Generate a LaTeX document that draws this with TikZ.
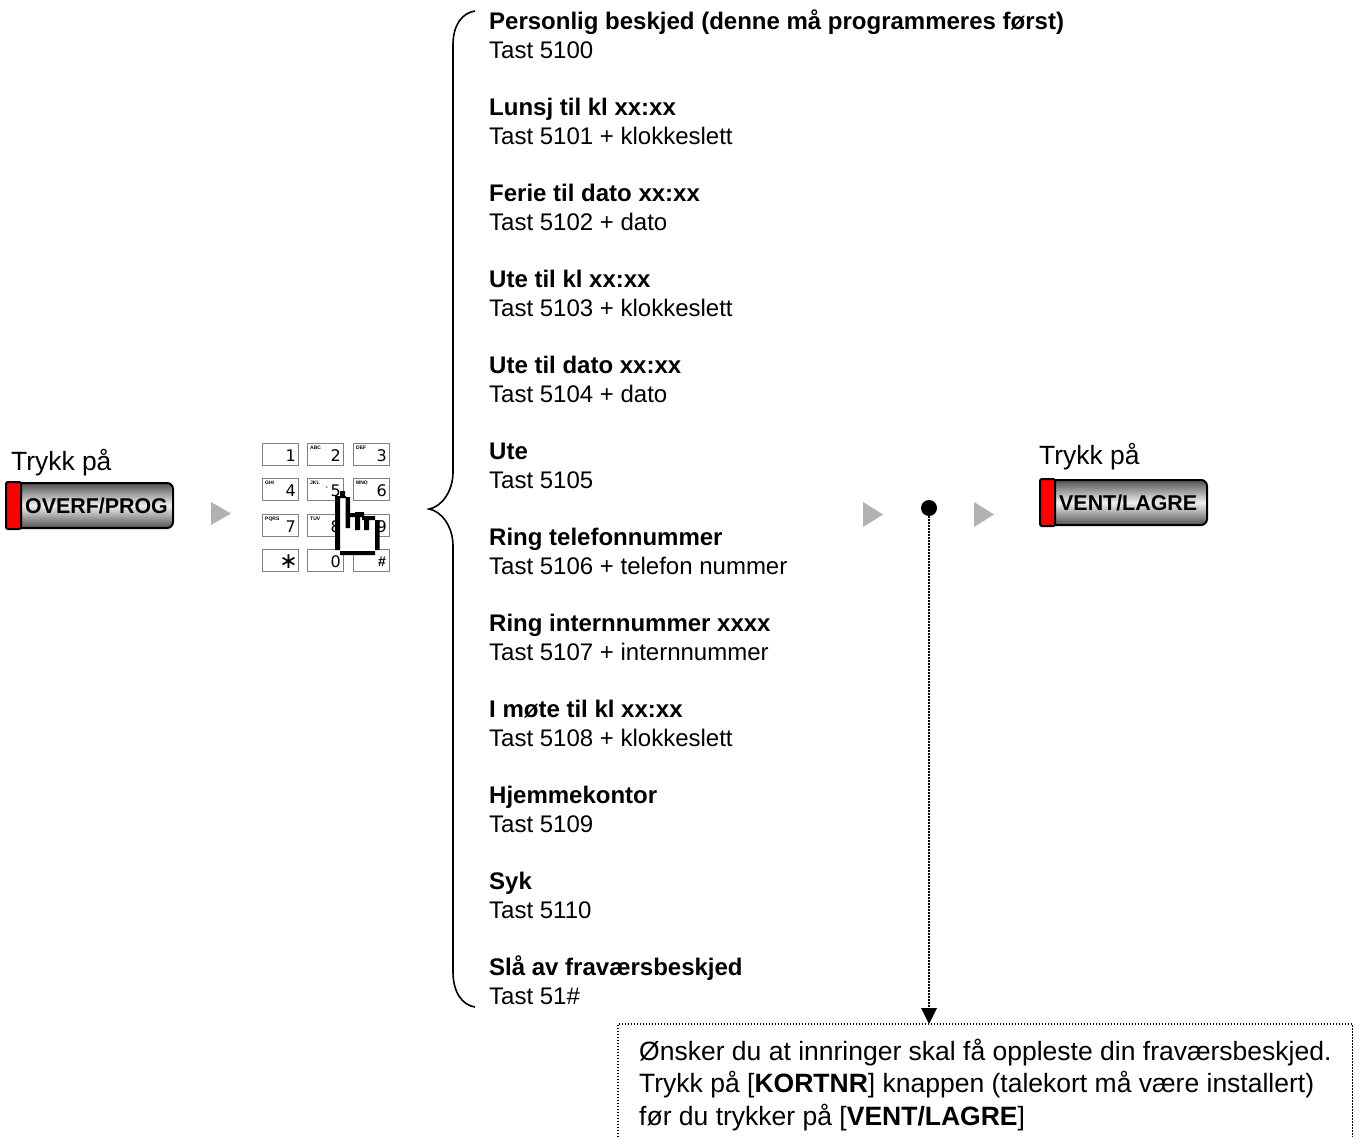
\documentclass[tikz,border=0pt]{standalone}
\usepackage{fontspec}
\setmainfont{Liberation Sans}
\newfontfamily\symfont{DejaVu Sans}
\usetikzlibrary{arrows.meta}
\definecolor{tri}{HTML}{B2B2B2}
\definecolor{keyline}{HTML}{808080}
\tikzset{
  msg/.style={anchor=north west,inner sep=0pt,align=left,font=\fontsize{24}{29}\selectfont},
  press/.style={anchor=base west,inner sep=0pt,font=\fontsize{26.4}{30}\selectfont},
  btn/.style={anchor=north west,inner sep=0pt,minimum width=166pt,minimum height=45pt,rounded corners=6pt,
    top color=black!68,bottom color=black!68,middle color=black!6,draw=black,line width=2pt},
  btnred/.style={fill=red,draw=black,line width=2pt,rounded corners=2pt},
  btntext/.style={inner sep=0pt,font=\fontsize{21.4}{24}\selectfont\bfseries},
  tri/.style={fill=tri,draw=none},
  keybox/.style={anchor=north west,inner sep=0pt,minimum width=36pt,minimum height=22pt,draw=keyline,line width=1pt,fill=white},
  keydigit/.style={anchor=east,inner sep=0pt,font=\fontsize{16}{16}\selectfont\symfont},
  keysmall/.style={anchor=north west,inner sep=0pt,font=\fontsize{5}{5}\selectfont\bfseries},
  dotline/.style={line width=1.5pt,dash pattern=on 1.5pt off 1.5pt},
}
\begin{document}
\begin{tikzpicture}[x=1pt,y=-1pt]
\useasboundingbox (0,0) rectangle (1359,1137);
% left button
\node[press] (tp1) at (11,470) {Trykk på};
\node[btn] (overf) at (6,482) {};
\draw[btnred] (overf.north west) -- ([xshift=15pt]overf.north west) -- ([xshift=15pt]overf.south west) -- (overf.south west) -- cycle;
\node[btntext,anchor=west] (overft) at (25,506) {OVERF/PROG};
\fill[tri] (211,502) -- (231,513.5) -- (211,525) -- cycle;
% keypad
\foreach \nm/\kx/\ky/\dg/\sm in {a/262/443/1/,b/307/443/2/ABC,c/353/443/3/DEF,d/262/478/4/GHI,e/307/478/5/JKL,f/353/478/6/MNO,g/262/514/7/PQRS,h/307/514/8/TUV,i/353/514/9/}{
  \node[keybox] (key\nm) at (\kx,\ky) {};
  \node[keydigit] (dig\nm) at ([xshift=-3pt,yshift=-1pt]key\nm.east) {\dg};
  \node[keysmall] (sm\nm) at ([shift={(3pt,-3pt)}]key\nm.north west) {\sm};
}
\node[keybox] (keyj) at (262,549) {};
\node[keybox] (keyk) at (307,549) {};
\node[keybox] (keyl) at (353,549) {};
\node[keydigit,font=\fontsize{22}{22}\selectfont\symfont] (digj) at ([xshift=-1pt,yshift=-1pt]keyj.east) {∗};
\node[keydigit] (digk) at ([xshift=-3pt,yshift=-1pt]keyk.east) {0};
\node[keydigit,font=\fontsize{14}{15}\selectfont\bfseries] (digl) at ([xshift=-4pt,yshift=-1pt]keyl.east) {\#};
\node[inner sep=0pt,font=\fontsize{11}{11}\selectfont] (dotfive) at (327,489) {·};
% hand
\fill[white] (337,497) -- (348,497) -- (348,515) -- (377,520) -- (377,553) -- (337,553) -- cycle;
\fill[black] (335,496) rectangle (340,550)
  (340,491) rectangle (345,496)
  (345.5,497) rectangle (350,528)
  (339,496) rectangle (346,498)
  (350,513) rectangle (358,517)
  (355,512) rectangle (360,530)
  (360,512) rectangle (364,517)
  (364,516) rectangle (369,530)
  (362,516) rectangle (375,520)
  (375,520) rectangle (379.5,550)
  (340,551) rectangle (375,555);
% bracket
\draw[line width=1.6pt] (475,11) .. controls (462,13) and (453,25) .. (453,45) -- (453,472)
  .. controls (453,492) and (441,507) .. (429,509) .. controls (441,511) and (453,526) .. (453,546)
  -- (453,972) .. controls (453,992) and (462,1005) .. (475,1007);
% messages
\node[msg] (m0) at (489,8.7) {\strut\textbf{Personlig beskjed (denne må programmeres først)}\\Tast 5100};
\node[msg] (m1) at (489,94.7) {\strut\textbf{Lunsj til kl xx:xx}\\Tast 5101 + klokkeslett};
\node[msg] (m2) at (489,180.7) {\strut\textbf{Ferie til dato xx:xx}\\Tast 5102 + dato};
\node[msg] (m3) at (489,266.7) {\strut\textbf{Ute til kl xx:xx}\\Tast 5103 + klokkeslett};
\node[msg] (m4) at (489,352.7) {\strut\textbf{Ute til dato xx:xx}\\Tast 5104 + dato};
\node[msg] (m5) at (489,438.7) {\strut\textbf{Ute}\\Tast 5105};
\node[msg] (m6) at (489,524.7) {\strut\textbf{Ring telefonnummer}\\Tast 5106 + telefon nummer};
\node[msg] (m7) at (489,610.7) {\strut\textbf{Ring internnummer xxxx}\\Tast 5107 + internnummer};
\node[msg] (m8) at (489,696.7) {\strut\textbf{I møte til kl xx:xx}\\Tast 5108 + klokkeslett};
\node[msg] (m9) at (489,782.7) {\strut\textbf{Hjemmekontor}\\Tast 5109};
\node[msg] (m10) at (489,868.7) {\strut\textbf{Syk}\\Tast 5110};
\node[msg] (m11) at (489,954.7) {\strut\textbf{Slå av fraværsbeskjed}\\Tast 51\#};
% right part
\fill[tri] (863,502) -- (883,514.5) -- (863,527) -- cycle;
\fill[tri] (974,502) -- (994,514.5) -- (974,527) -- cycle;
\node[circle,fill=black,inner sep=0pt,minimum size=16pt] (dot) at (929,508) {};
\node[press] (tp2) at (1039,464) {Trykk på};
\node[btn] (vent) at (1040,479) {};
\draw[btnred] (vent.north west) -- ([xshift=15pt]vent.north west) -- ([xshift=15pt]vent.south west) -- (vent.south west) -- cycle;
\node[btntext,anchor=west] (ventt) at (1059,503) {VENT/LAGRE};
% note box
\node[anchor=north west,inner sep=0pt,minimum width=734pt,minimum height=113pt] (box) at (618,1024) {};
\draw[dotline] (box.south west) -- (box.north west) -- (box.north east) -- (box.south east);
\draw[dotline] (dot) -- ([yshift=16pt]dot |- box.north);
\fill[black] (921,1008) -- (937,1008) -- (929,1024) -- cycle;
\node[anchor=north west,inner sep=0pt,align=left,font=\fontsize{26.5}{32.5}\selectfont] (note) at (639,1037.3)
 {\strut Ønsker du at innringer skal få oppleste din fraværsbeskjed.\\
  Trykk på [\textbf{KORTNR}] knappen (talekort må være installert)\\
  før du trykker på [\textbf{VENT/LAGRE}]};
\end{tikzpicture}
\end{document}
